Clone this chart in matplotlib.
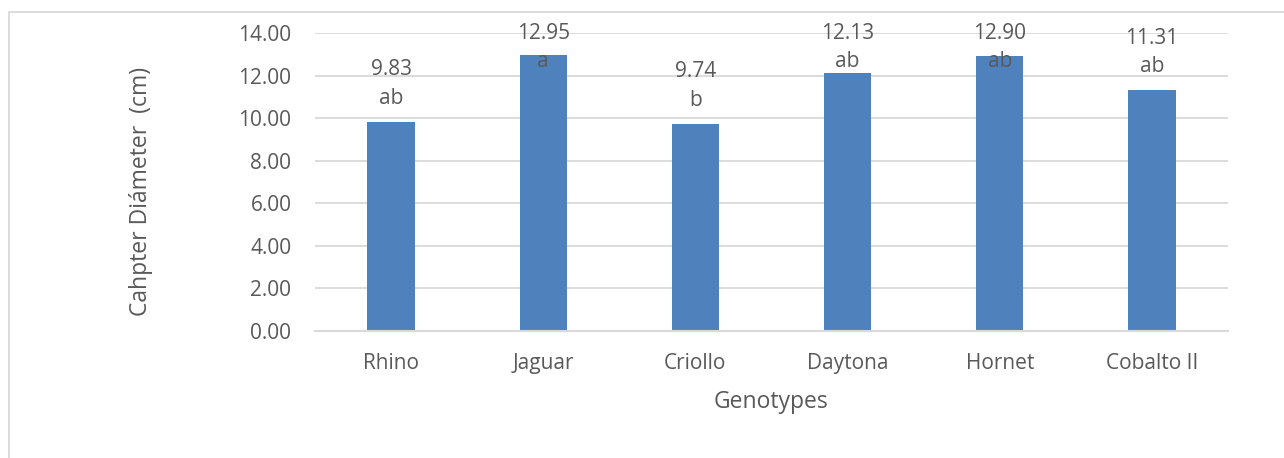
import matplotlib.pyplot as plt
from matplotlib.patches import Rectangle

genotypes = ["Rhino", "Jaguar", "Criollo", "Daytona", "Hornet", "Cobalto II"]
diameter = [9.83, 12.95, 9.74, 12.13, 12.90, 11.31]
groups = ["ab", "a", "b", "ab", "ab", "ab"]
yticks = [0, 2, 4, 6, 8, 10, 12, 14]

txt = "#595959"
grid = "#D9D9D9"
bar_col = "#4F81BD"

plt.rcParams['font.family'] = ['Open Sans', 'DejaVu Sans']

W, H = 1284, 458
fig = plt.figure(figsize=(W / 100, H / 100), dpi=100)
ax = fig.add_axes([315 / W, (H - 331) / H, 913 / W, 298 / H])

x = range(len(genotypes))
ax.bar(x, diameter, width=0.31, color=bar_col, zorder=2)

# value + letter group above each bar, held below the top of the chart
for i, (v, g) in enumerate(zip(diameter, groups)):
    y = min(v + 1.86, 13.41)
    ax.annotate(f"{v:.2f}", (i, y), xytext=(0, 9), textcoords="offset points",
                ha="center", va="center", fontsize=15, color=txt, zorder=3)
    ax.annotate(g, (i, y), xytext=(0, -11.5), textcoords="offset points",
                ha="center", va="center", fontsize=15, color=txt, zorder=3)

ax.set_xlim(-0.5, len(genotypes) - 0.5)
ax.set_ylim(0, 14)
ax.set_yticks(yticks)
ax.set_yticklabels([f"{t:.2f}" for t in yticks])
ax.set_xticks(list(x))
ax.set_xticklabels(genotypes)
ax.tick_params(axis="both", length=0, labelsize=15, labelcolor=txt)
ax.tick_params(axis="y", pad=17)
ax.tick_params(axis="x", pad=16)
ax.grid(axis="y", color=grid, linewidth=1.3, zorder=0)
for s in ["top", "right", "left"]:
    ax.spines[s].set_visible(False)
ax.spines["bottom"].set_color(grid)
ax.spines["bottom"].set_linewidth(1.5)

fig.text(771 / W, 1 - 402 / H, "Genotypes", ha="center", va="center",
         fontsize=16.5, color=txt)
fig.text(141 / W, 1 - 191 / H, "Cahpter Diámeter  (cm)", rotation=90,
         ha="center", va="center", fontsize=16.5, color=txt)

# chart frame
fig.add_artist(Rectangle((8.5 / W, -0.1), 1.2, 1 - 11.5 / H + 0.1,
                         transform=fig.transFigure, fill=False,
                         edgecolor=grid, linewidth=1.3))

fig.savefig("out.png", dpi=100, facecolor="white")
